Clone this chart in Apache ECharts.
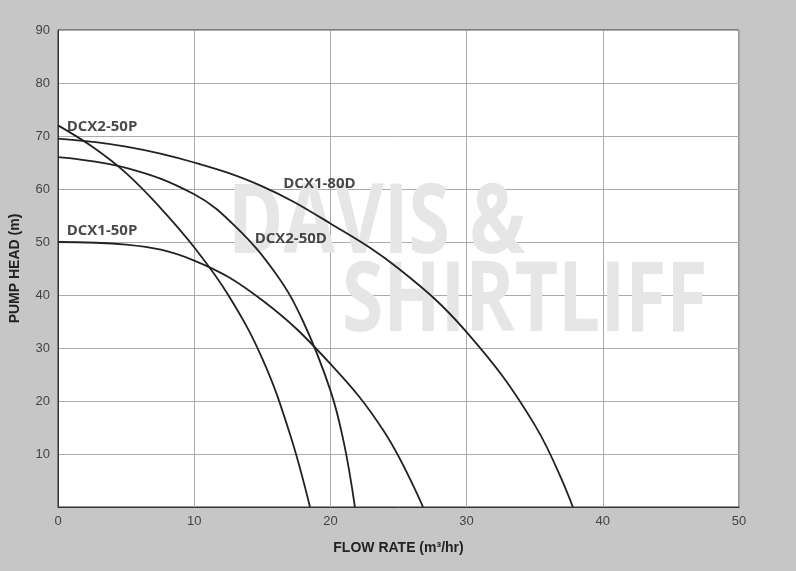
<!DOCTYPE html><html><head><meta charset="utf-8"><script src="https://cdn.jsdelivr.net/npm/echarts@6/dist/echarts.min.js"></script></head>
<body style="margin:0;background:#c6c6c6"><div id="c" style="width:796px;height:571px"></div><script>
const xTicks=[0,10,20,30,40,50];
const dcx2_50p=[[0,72],[2.5,68],[5,63],[7.5,56.5],[10,49],[12.5,40],[15,28],[17,14],[18.5,0]];
const dcx1_80d=[[0,69.5],[5,68],[10,65],[15,60.5],[20,53.5],[25,45],[30,33],[35,15.5],[37.8,0]];
const dcx2_50d=[[0,66],[5,64],[10,59],[13,53],[16,44],[18,35],[20,22],[21,12],[21.8,0]];
const dcx1_50p=[[0,50],[5,49.5],[10,46.5],[15,39],[20,27],[24,14],[26.8,0]];
const names=['DCX2-50P','DCX1-80D','DCX2-50D','DCX1-50P'];
const labels=[[0.6,71.7],[16.5,61],[14.4,50.7],[0.6,52.2]];
const ch=echarts.init(document.getElementById('c'));
const ser=[dcx2_50p,dcx1_80d,dcx2_50d,dcx1_50p].map((d,i)=>({type:'line',data:d,smooth:0.4,showSymbol:false,lineStyle:{color:'#222',width:1.8},z:3}));
ser.push({type:'scatter',symbolSize:1,itemStyle:{color:'rgba(0,0,0,0)'},data:labels.map((p,i)=>({value:p,label:{show:true,formatter:names[i],position:'right',color:'#1a1a1a',fontWeight:'bold',fontSize:15,fontFamily:'Open Sans',distance:0}})),z:4});
ch.setOption({backgroundColor:'#c6c6c6',animation:false,
grid:{left:56,right:57,top:30,bottom:64,backgroundColor:'#fff',show:true,borderColor:'#333',borderWidth:1},
graphic:[{type:'text',x:228,y:178,scaleX:0.78,z:1,style:{text:'DAVIS &',fontSize:96,fontWeight:'bold',fill:'#e6e6e6',fontFamily:'Open Sans'}},
{type:'text',x:342,y:256,scaleX:0.78,z:1,style:{text:'SHIRTLIFF',fontSize:96,fontWeight:'bold',fill:'#e6e6e6',fontFamily:'Open Sans'}}],
xAxis:{type:'value',min:0,max:50,interval:10,name:'FLOW RATE (m³/hr)',nameLocation:'middle',nameGap:34,nameTextStyle:{fontWeight:'bold',fontSize:14,color:'#222'},axisLine:{lineStyle:{color:'#333'}},axisTick:{show:false},axisLabel:{color:'#444',fontSize:13},splitLine:{lineStyle:{color:'#aaa'}}},
yAxis:{type:'value',min:0,max:90,interval:10,name:'PUMP HEAD (m)',nameLocation:'middle',nameGap:36,nameTextStyle:{fontWeight:'bold',fontSize:14,color:'#222'},axisLine:{lineStyle:{color:'#333'}},axisTick:{show:false},axisLabel:{color:'#444',fontSize:13,formatter:v=>v===0?'':v},splitLine:{lineStyle:{color:'#aaa'}}},
series:ser});
</script></body></html>
